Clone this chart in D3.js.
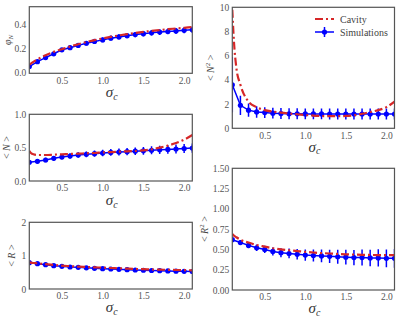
<!DOCTYPE html>
<html>
<head>
<meta charset="utf-8">
<script src="https://cdn.jsdelivr.net/npm/d3@7"></script>
<style>
  body { margin: 0; background: #fff; }
  svg { display: block; }
  text { font-family: 'Liberation Serif', 'DejaVu Serif', serif; }
</style>
</head>
<body>
<svg id="chart" width="399" height="320"></svg>
<script>
'use strict';

// simulation sigma_c values and cavity curve sample points
const simX = [0.1, 0.2, 0.3, 0.4, 0.5, 0.6, 0.7, 0.8, 0.9, 1.0, 1.1, 1.2, 1.3, 1.4, 1.5, 1.6, 1.7, 1.8, 1.9, 2.0, 2.1];
const cavX = [0.1, 0.12, 0.15, 0.2, 0.3, 0.4, 0.5, 0.6, 0.7, 0.8, 0.9, 1.0, 1.1, 1.2, 1.3, 1.4, 1.5, 1.6, 1.7, 1.8, 1.9, 2.0, 2.1];

// phi_N
const cavPhi = [0.062, 0.07, 0.085, 0.105, 0.14, 0.168, 0.19, 0.212, 0.232, 0.25, 0.266, 0.28, 0.293, 0.305, 0.316, 0.326, 0.335, 0.343, 0.35, 0.357, 0.363, 0.369, 0.375];
const simPhi = [0.045, 0.086, 0.12, 0.152, 0.185, 0.203, 0.222, 0.24, 0.255, 0.268, 0.282, 0.293, 0.303, 0.312, 0.32, 0.327, 0.333, 0.338, 0.343, 0.348, 0.352];
const errPhi = [0.012, 0.012, 0.014, 0.015, 0.016, 0.017, 0.018, 0.018, 0.019, 0.02, 0.02, 0.021, 0.022, 0.022, 0.023, 0.023, 0.024, 0.024, 0.025, 0.025, 0.025];

// <N>
const cavN = [0.45, 0.42, 0.4, 0.39, 0.39, 0.395, 0.4, 0.405, 0.41, 0.415, 0.42, 0.428, 0.434, 0.44, 0.445, 0.45, 0.46, 0.475, 0.5, 0.53, 0.57, 0.62, 0.69];
const simN = [0.28, 0.295, 0.315, 0.34, 0.36, 0.375, 0.39, 0.4, 0.41, 0.42, 0.428, 0.435, 0.44, 0.447, 0.453, 0.46, 0.467, 0.473, 0.48, 0.487, 0.494];
const errN = [0.03, 0.032, 0.034, 0.036, 0.038, 0.04, 0.042, 0.044, 0.046, 0.048, 0.05, 0.052, 0.054, 0.056, 0.058, 0.06, 0.062, 0.064, 0.066, 0.068, 0.07];

// <R>
const cavR = [0.8, 0.79, 0.78, 0.77, 0.745, 0.72, 0.7, 0.685, 0.67, 0.66, 0.65, 0.64, 0.63, 0.62, 0.61, 0.6, 0.595, 0.585, 0.58, 0.575, 0.57, 0.565, 0.56];
const simR = [0.79, 0.76, 0.73, 0.7, 0.68, 0.66, 0.65, 0.635, 0.62, 0.61, 0.6, 0.59, 0.58, 0.57, 0.562, 0.555, 0.55, 0.542, 0.535, 0.53, 0.525];
const errR = [0.02, 0.02, 0.02, 0.02, 0.02, 0.02, 0.02, 0.022, 0.022, 0.022, 0.024, 0.024, 0.024, 0.025, 0.025, 0.025, 0.026, 0.026, 0.027, 0.027, 0.028];

// <N^2>
const cavN2 = [9.8, 7.2, 5.0, 3.6, 2.2, 1.75, 1.5, 1.38, 1.3, 1.22, 1.16, 1.1, 1.05, 1.02, 1.0, 1.0, 1.02, 1.08, 1.2, 1.35, 1.5, 1.75, 2.2];
const simN2 = [3.6, 1.9, 1.5, 1.35, 1.3, 1.25, 1.22, 1.2, 1.2, 1.19, 1.19, 1.19, 1.18, 1.18, 1.18, 1.18, 1.18, 1.18, 1.18, 1.18, 1.18];
const errN2 = [2.3, 0.8, 0.55, 0.48, 0.45, 0.45, 0.45, 0.45, 0.45, 0.45, 0.45, 0.45, 0.45, 0.45, 0.45, 0.45, 0.45, 0.45, 0.45, 0.45, 0.45];

// <R^2>
const cavR2 = [0.69, 0.67, 0.65, 0.62, 0.585, 0.555, 0.535, 0.515, 0.5, 0.49, 0.48, 0.47, 0.462, 0.455, 0.45, 0.445, 0.44, 0.437, 0.434, 0.432, 0.43, 0.43, 0.43];
const simR2 = [0.62, 0.585, 0.55, 0.52, 0.5, 0.475, 0.46, 0.45, 0.44, 0.43, 0.425, 0.42, 0.415, 0.41, 0.405, 0.4, 0.4, 0.395, 0.395, 0.39, 0.39];
const errR2 = [0.03, 0.03, 0.035, 0.04, 0.045, 0.05, 0.055, 0.06, 0.065, 0.07, 0.074, 0.078, 0.082, 0.086, 0.09, 0.094, 0.098, 0.102, 0.106, 0.11, 0.115];

const xTicks = [0.5, 1.0, 1.5, 2.0];
const legendLabels = ['Cavity', 'Simulations'];

const red = '#d62728',
  blue = '#0000ff',
  frameColor = '#555',
  tickColor = '#555';

const svg = d3.select('#chart');

function drawPanel(p) {
  const x = d3.scaleLinear().domain([0.1, 2.1]).range([p.left, p.right]);
  const y = d3.scaleLinear().domain(p.yDomain).range([p.bottom, p.top]);
  const g = svg.append('g');

  // axes without tick marks (seaborn white look)
  const yAxis = g.append('g')
    .attr('transform', `translate(${p.left - 2},0)`)
    .call(d3.axisLeft(y).tickValues(p.yTicks).tickSize(0).tickPadding(1).tickFormat(d3.format(p.yFmt)));
  const xAxis = g.append('g')
    .attr('transform', `translate(0,${p.bottom + 1.5})`)
    .call(d3.axisBottom(x).tickValues(xTicks).tickSize(0).tickPadding(2).tickFormat(d3.format('.1f')));
  [yAxis, xAxis].forEach(a => {
    a.attr('font-family', null);
    a.select('.domain').remove();
    a.selectAll('text')
      .style('font-family', "'Liberation Serif', serif")
      .style('font-size', '9.5px')
      .attr('fill', tickColor);
  });

  const clipId = 'clip' + p.id;
  g.append('clipPath').attr('id', clipId)
    .append('rect')
    .attr('x', p.left).attr('y', p.top)
    .attr('width', p.right - p.left).attr('height', p.bottom - p.top);

  const plot = g.append('g').attr('clip-path', `url(#${clipId})`);

  // error bars
  plot.selectAll('.err')
    .data(simX)
    .enter()
    .append('line')
    .attr('x1', d => x(d))
    .attr('x2', d => x(d))
    .attr('y1', (d, i) => y(p.sim[i] - p.err[i]))
    .attr('y2', (d, i) => y(p.sim[i] + p.err[i]))
    .attr('stroke', blue)
    .attr('stroke-width', 1.5);

  // simulation line + markers
  plot.append('path')
    .datum(simX.map((d, i) => [d, p.sim[i]]))
    .attr('d', d3.line().x(d => x(d[0])).y(d => y(d[1])))
    .attr('fill', 'none')
    .attr('stroke', blue)
    .attr('stroke-width', 1.5);
  plot.selectAll('.pt')
    .data(simX)
    .enter()
    .append('circle')
    .attr('cx', d => x(d))
    .attr('cy', (d, i) => y(p.sim[i]))
    .attr('r', 2.6)
    .attr('fill', blue);

  // cavity curve
  plot.append('path')
    .datum(cavX.map((d, i) => [d, p.cav[i]]))
    .attr('d', d3.line().curve(d3.curveMonotoneX).x(d => x(d[0])).y(d => y(d[1])))
    .attr('fill', 'none')
    .attr('stroke', red)
    .attr('stroke-width', 2.2)
    .attr('stroke-dasharray', '8,3,2,3');

  // frame
  g.append('rect')
    .attr('x', p.left).attr('y', p.top)
    .attr('width', p.right - p.left).attr('height', p.bottom - p.top)
    .attr('fill', 'none')
    .attr('stroke', frameColor)
    .attr('stroke-width', 1.2);

  // x label
  const xl = g.append('text')
    .attr('x', (p.left + p.right) / 2 + 1)
    .attr('y', p.bottom + p.xlo)
    .attr('text-anchor', 'middle')
    .attr('fill', '#333')
    .style('font-size', '15px')
    .style('font-style', 'italic');
  xl.append('tspan').text('σ');
  xl.append('tspan').attr('dy', 2.5).style('font-size', '10px').text('c');

  // y label
  const yl = g.append('text')
    .attr('transform', `translate(${p.ylx},${(p.top + p.bottom) / 2}) rotate(-90)`)
    .attr('text-anchor', 'middle')
    .attr('fill', '#444')
    .style('font-size', '10px');
  p.ylabel(yl);
}

const panels = [
  {
    id: 1, left: 29.3, right: 192.3, top: 6.7, bottom: 73.3, xlo: 24,
    yDomain: [-0.011, 0.545], yTicks: [0, 0.2, 0.4], yFmt: '.1f',
    cav: cavPhi, sim: simPhi, err: errPhi, ylx: 11,
    ylabel: t => {
      t.append('tspan').style('font-style', 'italic').text('φ');
      t.append('tspan').attr('dy', 2).style('font-size', '7px').style('font-style', 'italic').text('N');
    }
  },
  {
    id: 2, left: 29.3, right: 192.3, top: 114.3, bottom: 181, xlo: 24,
    yDomain: [0, 1], yTicks: [0, 0.5, 1.0], yFmt: '.1f',
    cav: cavN, sim: simN, err: errN, ylx: 10,
    ylabel: t => {
      t.append('tspan').text('< ');
      t.append('tspan').style('font-style', 'italic').text('N');
      t.append('tspan').text(' >');
    }
  },
  {
    id: 3, left: 29.3, right: 192.3, top: 222.3, bottom: 289, xlo: 23,
    yDomain: [0, 2], yTicks: [0, 1, 2], yFmt: 'd',
    cav: cavR, sim: simR, err: errR, ylx: 15,
    ylabel: t => {
      t.append('tspan').text('< ');
      t.append('tspan').style('font-style', 'italic').text('R');
      t.append('tspan').text(' >');
    }
  },
  {
    id: 4, left: 232.3, right: 394.5, top: 7.3, bottom: 128.3, xlo: 23.5,
    yDomain: [0, 10], yTicks: [0, 2, 4, 6, 8, 10], yFmt: 'd',
    cav: cavN2, sim: simN2, err: errN2, ylx: 214,
    ylabel: t => {
      t.append('tspan').text('< ');
      t.append('tspan').style('font-style', 'italic').text('N');
      t.append('tspan').attr('dy', -4).style('font-size', '7px').text('2');
      t.append('tspan').attr('dy', 4).text(' >');
    }
  },
  {
    id: 5, left: 232.3, right: 394.5, top: 168.3, bottom: 290, xlo: 23,
    yDomain: [0, 1.5], yTicks: [0, 0.25, 0.5, 0.75, 1.0, 1.25, 1.5], yFmt: '.2f',
    cav: cavR2, sim: simR2, err: errR2, ylx: 208,
    ylabel: t => {
      t.append('tspan').text('< ');
      t.append('tspan').style('font-style', 'italic').text('R');
      t.append('tspan').attr('dy', -4).style('font-size', '7px').text('2');
      t.append('tspan').attr('dy', 4).text(' >');
    }
  }
];

panels.forEach(drawPanel);

// Legend (top right panel)
const legend = svg.append('g');
const lx0 = 315, lx1 = 334, ly = [19, 32];
legend.append('line')
  .attr('x1', lx0).attr('x2', lx1).attr('y1', ly[0]).attr('y2', ly[0])
  .attr('stroke', red).attr('stroke-width', 2.2).attr('stroke-dasharray', '8,3,2,3');
legend.append('line')
  .attr('x1', lx0).attr('x2', lx1).attr('y1', ly[1]).attr('y2', ly[1])
  .attr('stroke', blue).attr('stroke-width', 1.5);
legend.append('line')
  .attr('x1', (lx0 + lx1) / 2).attr('x2', (lx0 + lx1) / 2).attr('y1', ly[1] - 5).attr('y2', ly[1] + 5)
  .attr('stroke', blue).attr('stroke-width', 1.5);
legend.append('circle')
  .attr('cx', (lx0 + lx1) / 2).attr('cy', ly[1]).attr('r', 2.6).attr('fill', blue);
legend.selectAll('.lt')
  .data(legendLabels)
  .enter()
  .append('text')
  .attr('x', 340)
  .attr('y', (d, i) => ly[i] + 3.5)
  .attr('fill', '#444')
  .style('font-size', '10px')
  .text(d => d);
</script>
</body>
</html>
